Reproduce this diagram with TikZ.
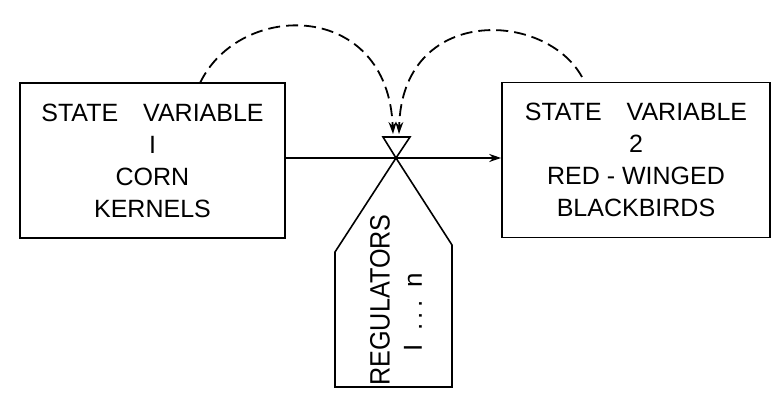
\documentclass[tikz,border=0pt]{standalone}
\usepackage{fontspec}
\setmainfont{Liberation Sans}
\usetikzlibrary{arrows.meta}

\tikzset{
  statebox/.style={draw, line width=0.8pt, minimum width=132.5pt, minimum height=77.5pt,
    align=center, font=\fontsize{12.5}{16}\selectfont},
  flow/.style={line width=0.8pt, -{Stealth[length=6pt,width=4pt]}},
  info/.style={line width=0.9pt, dash pattern=on 6pt off 3pt, -{Stealth[length=6pt,width=4pt]}}
}

\begin{document}
\begin{tikzpicture}[x=0.5pt, y=-0.5pt]
\useasboundingbox (0,0) rectangle (777,399);
\node[statebox] (corn) at (152.5,160.5) {STATE\hspace{1em}VARIABLE\\I\\CORN\\KERNELS};
\node[statebox, minimum width=134pt] (birds) at (636,160) {STATE\hspace{1em}VARIABLE\\2\\RED - WINGED\\BLACKBIRDS};
\coordinate (valve) at (396,158);
\draw[line width=0.8pt] (valve) -- ++(-13,-21) -- ++(27,0) -- cycle;
\draw[line width=0.8pt] (valve) -- (452,245) -- (452,387) -- (335,387) -- (335,252) -- cycle;
\node[rotate=90, xscale=0.9, font=\fontsize{14}{16}\selectfont] (regs) at (380,300) {REGULATORS};
\node[rotate=90, font=\fontsize{13}{16}\selectfont] (range) at (413,312) {I\enspace.\,.\,.\enspace n};
\draw[flow] (valve -| corn.east) -- (valve -| birds.west);
\draw[info] (200,83) .. controls (240,0) and (388,0) .. (393,134);
\draw[info] (582,77) .. controls (545,10) and (402,5) .. (399,134);
\end{tikzpicture}
\end{document}
